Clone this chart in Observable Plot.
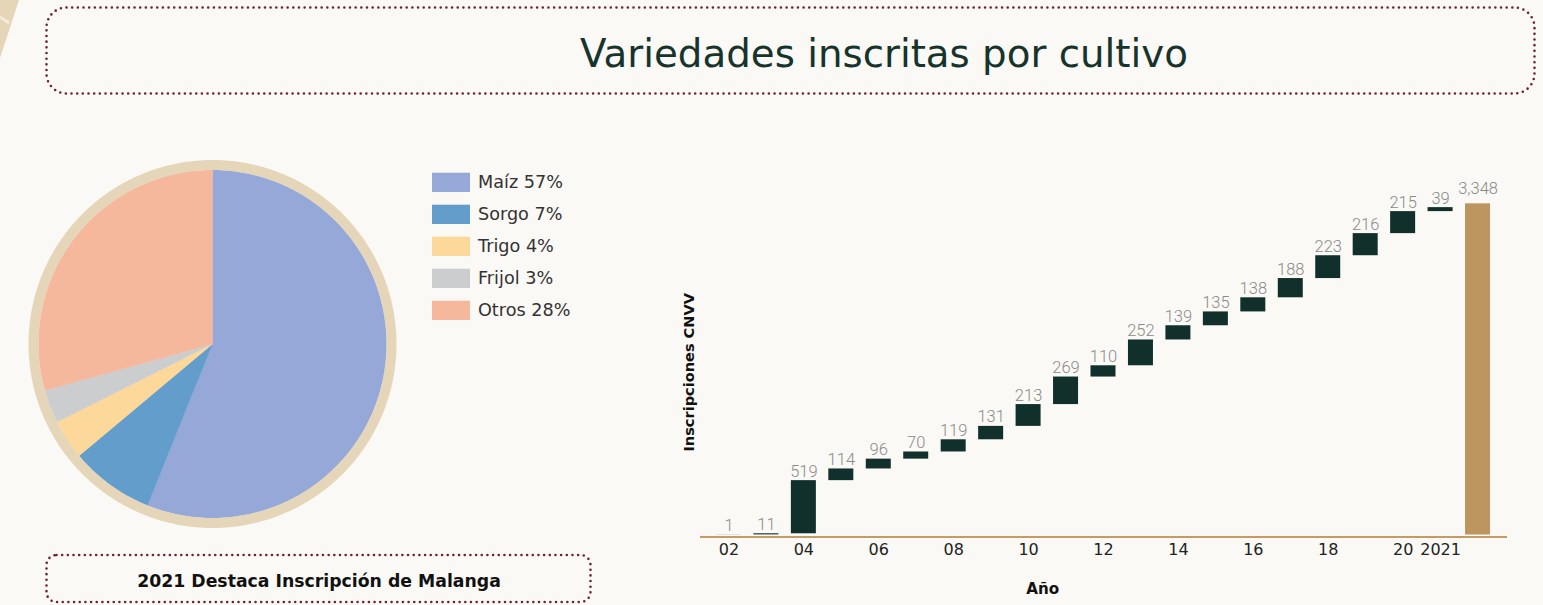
<!DOCTYPE html>
<html><head><meta charset="utf-8">
<script src="https://cdn.jsdelivr.net/npm/d3@7"></script>
<script src="https://cdn.jsdelivr.net/npm/@observablehq/plot@0.6"></script>
<style>
html,body{margin:0;padding:0;background:#fbf9f5;}
body{width:1543px;height:605px;position:relative;overflow:hidden;font-family:"DejaVu Sans",sans-serif;}
.abs{position:absolute;}
</style></head><body>
<div id="pie" class="abs" style="left:0;top:150px;"></div>
<div id="wf" class="abs" style="left:660px;top:150px;"></div>
<svg id="over" class="abs" style="left:0;top:0;pointer-events:none" width="1543" height="605"></svg>
<script>
// ---------- DATA ----------
const title = "Variedades inscritas por cultivo";
const caption = "2021 Destaca Inscripción de Malanga";
const crops = ["Maíz", "Sorgo", "Trigo", "Frijol", "Otros"];
const cropShares = [56.1, 7.8, 3.7, 3.1, 29.3];          // slice sizes
const cropLegend = ["Maíz 57%", "Sorgo 7%", "Trigo 4%", "Frijol 3%", "Otros 28%"];
const cropColors = ["#95a8d8", "#629dcb", "#fdd89b", "#cccdcf", "#f5b89d"];

const years = ["2002","2003","2004","2005","2006","2007","2008","2009","2010","2011",
               "2012","2013","2014","2015","2016","2017","2018","2019","2020","2021"];
const yearValues = [1, 11, 519, 114, 96, 70, 119, 131, 213, 269, 110, 252, 139, 135, 138, 188, 223, 216, 215, 39];
const totalCat = "Total";
const totalBar = 3235;        // height of the total bar as drawn
const totalLabel = "3,348";
const tickLabels = ["02","","04","","06","","08","","10","","12","","14","","16","","18","","20","2021",""];
const yLabel = "Inscripciones CNVV";
const xLabel = "Año";

// ---------- helpers ----------
const ctx = document.createElement("canvas").getContext("2d");
function fit(text, family, weight, target) {
  ctx.font = `${weight} 20px ${family}`;
  return 20 * target / ctx.measureText(text).width;
}
const DV = '"DejaVu Sans"';

// ---------- PIE ----------
const total = d3.sum(cropShares);
let acc = 0;
const slicePts = [];
crops.forEach((c, i) => {
  const a0 = acc / total * 2 * Math.PI;
  acc += cropShares[i];
  const a1 = acc / total * 2 * Math.PI;
  slicePts.push({crop: c, x: 0, y: 0});
  const n = Math.max(2, Math.ceil((a1 - a0) / (Math.PI / 180)));
  for (let k = 0; k <= n; k++) {
    const a = a0 + (a1 - a0) * k / n;
    slicePts.push({crop: c, x: Math.sin(a), y: Math.cos(a)});
  }
  slicePts.push({crop: c, x: 0, y: 0});
});
const ringR = 179 / 174;
const ringPts = d3.range(0, 361).map(d => ({x: ringR * Math.sin(d * Math.PI / 180), y: ringR * Math.cos(d * Math.PI / 180)}));

const pie = Plot.plot({
  width: 430, height: 390, margin: 0,
  x: {domain: [-1, 1], range: [212 - 174, 212 + 174], axis: null},
  y: {domain: [-1, 1], range: [193.5 + 174, 193.5 - 174], axis: null},
  color: {domain: crops, range: cropColors},
  style: {background: "transparent", overflow: "visible"},
  marks: [
    Plot.line(slicePts, {x: "x", y: "y", z: "crop", fill: "crop", stroke: "crop", strokeWidth: 0.4}),
    Plot.line(ringPts, {x: "x", y: "y", stroke: "#e5d6b9", strokeWidth: 10})
  ]
});
document.getElementById("pie").appendChild(pie);

// ---------- WATERFALL ----------
let run = 0;
const steps = years.map((y, i) => {
  const start = run; run += yearValues[i];
  return {cat: y, start, end: run, label: String(yearValues[i])};
});
const cats = [...years, totalCat];
const tickMap = new Map(cats.map((c, i) => [c, tickLabels[i]]));
const totalRow = [{cat: totalCat, value: totalBar, label: totalLabel}];

const wf = Plot.plot({
  width: 883, height: 455,
  marginLeft: 40, marginRight: 36, marginTop: 26.2, marginBottom: 70.5,
  style: {background: "transparent", fontFamily: DV, fontSize: "16px", color: "#222", overflow: "visible"},
  x: {domain: cats, padding: 0.3325, round: false, insetLeft: 3.5, insetRight: 4.5, tickSize: 0, tickPadding: 9,
      tickFormat: d => tickMap.get(d), label: null},
  y: {domain: [0, 3500], axis: null},
  marks: [
    Plot.barY(steps, {x: "cat", y1: "start", y2: "end", fill: "#11302b"}),
    Plot.barY(totalRow, {x: "cat", y1: 0, y2: "value", fill: "#bd955e"}),
    Plot.ruleY([0], {stroke: "#c49b63", strokeWidth: 2, dy: 2}),
    Plot.text(steps, {x: "cat", y: "end", text: "label", dy: -4, lineAnchor: "bottom",
      fill: "#8a8a8a", fontSize: 16.5, fontFamily: "Roboto", fontWeight: 300}),
    Plot.text(totalRow, {x: "cat", y: "value", text: "label", dy: -10, lineAnchor: "bottom",
      fill: "#8a8a8a", fontSize: 16.5, fontFamily: "Roboto", fontWeight: 300})
  ]
});
document.getElementById("wf").appendChild(wf);

// ---------- OVERLAY (boxes, titles, legend) ----------
const svg = d3.select("#over");
svg.append("path").attr("d", "M0,0 L19,0 L0,58 Z").attr("fill", "#e6d6b8");
svg.append("line").attr("x1", 0).attr("y1", 17).attr("x2", 9).attr("y2", 23).attr("stroke", "#f3ecdd").attr("stroke-width", 3);
const dotted = sel => sel.attr("fill", "none").attr("stroke", "#6d2236").attr("stroke-width", 2.6)
  .attr("stroke-linecap", "round").attr("stroke-dasharray", "0 5.67");
svg.append("rect").attr("x", 46.5).attr("y", 7.5).attr("width", 1488).attr("height", 86).attr("rx", 20).call(dotted);
svg.append("rect").attr("x", 46.5).attr("y", 555).attr("width", 544).attr("height", 47).attr("rx", 10).call(dotted);

svg.append("text").attr("x", 884).attr("y", 66.5).attr("text-anchor", "middle")
  .attr("font-family", DV).attr("font-size", fit(title, DV, 400, 608)).attr("fill", "#16332c").text(title);
svg.append("text").attr("x", 319).attr("y", 587).attr("text-anchor", "middle").attr("font-weight", 700)
  .attr("font-family", DV).attr("font-size", fit(caption, DV, 700, 364)).attr("fill", "#111").text(caption);
svg.append("text").attr("x", 1042.7).attr("y", 594).attr("text-anchor", "middle").attr("font-weight", 700)
  .attr("font-family", DV).attr("font-size", fit(xLabel, DV, 700, 33)).attr("fill", "#111").text(xLabel);
svg.append("text").attr("transform", "translate(694,372.3) rotate(-90)").attr("text-anchor", "middle").attr("font-weight", 700)
  .attr("font-family", DV).attr("font-size", fit(yLabel, DV, 700, 158.7)).attr("fill", "#111").text(yLabel);

const legSize = fit(cropLegend[0], DV, 400, 85);
cropLegend.forEach((t, i) => {
  svg.append("rect").attr("x", 432).attr("y", 172.7 + 32 * i).attr("width", 38).attr("height", 19.3).attr("fill", cropColors[i]);
  svg.append("text").attr("x", 478).attr("y", 188.3 + 32 * i).attr("font-family", DV)
    .attr("font-size", legSize).attr("fill", "#333").text(t);
});
</script>
</body></html>
